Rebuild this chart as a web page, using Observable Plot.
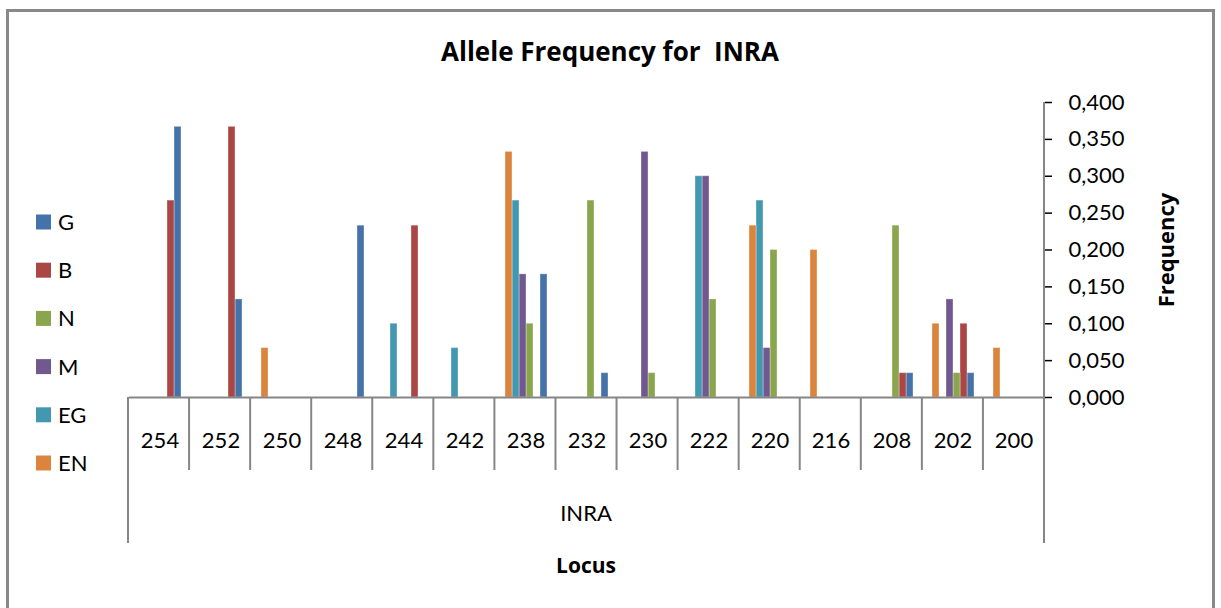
<!DOCTYPE html>
<html>
<head>
<meta charset="utf-8">
<script src="https://cdn.jsdelivr.net/npm/d3@7"></script>
<script src="https://cdn.jsdelivr.net/npm/@observablehq/plot@0.6"></script>
<style>
  html, body { margin: 0; padding: 0; background: #fff; overflow: hidden; }
  #chart { position: relative; width: 1221px; height: 608px; }
  #chart svg { display: block; }
  /* grey tick marks on the frequency axis (both axis renderers) */
  #chart [aria-label="y-axis tick"], #chart g[aria-label="y-axis"] .tick line { stroke: #868686; stroke-width: 1.5; }
  #chart [aria-label="y-axis"] path.domain { display: none; }
</style>
</head>
<body>
<div id="chart"></div>
<script>
// Chart text
const title = "Allele Frequency for  INRA";
const groupLabel = "INRA";
const xTitle = "Locus";
const yTitle = "Frequency";

// Alleles (categories), left to right
const alleles = ["254", "252", "250", "248", "244", "242", "238", "232", "230", "222", "220", "216", "208", "202", "200"];

// Populations (series) and their colours
const series = ["G", "B", "N", "M", "EG", "EN"];
const colors = ["#4672aa", "#aa4643", "#89a54e", "#71588f", "#4198af", "#db843d"];

// Allele frequency of each population, one value per allele above
const G  = [0.367, 0.133, 0,     0.233, 0,     0,     0.167, 0.033, 0,     0,     0,     0,   0.033, 0.033, 0];
const B  = [0.267, 0.367, 0,     0,     0.233, 0,     0,     0,     0,     0,     0,     0,   0.033, 0.100, 0];
const N  = [0,     0,     0,     0,     0,     0,     0.100, 0.267, 0.033, 0.133, 0.200, 0,   0.233, 0.033, 0];
const M  = [0,     0,     0,     0,     0,     0,     0.167, 0,     0.333, 0.300, 0.067, 0,   0,     0.133, 0];
const EG = [0,     0,     0,     0,     0.100, 0.067, 0.267, 0,     0,     0.300, 0.267, 0,   0,     0,     0];
const EN = [0,     0,     0.067, 0,     0,     0,     0.333, 0,     0,     0,     0.233, 0.2, 0,     0.100, 0.067];

// Frequency axis ticks
const yTicks = [0, 0.05, 0.1, 0.15, 0.2, 0.25, 0.3, 0.35, 0.4];

const seriesValues = [G, B, N, M, EG, EN];
const rows = [];
series.forEach((s, i) => {
  seriesValues[i].forEach((v, j) => rows.push({allele: alleles[j], population: s, value: v}));
});

// decimal comma, three decimals
const fmt = d3.formatLocale({decimal: ",", thousands: ".", grouping: [3], currency: ["", ""]}).format(".3f");

const FONT = "Lato, 'Open Sans', sans-serif";
const BOLD_FONT = "'Open Sans', Lato, sans-serif";
const GREY = "#868686";

const plot = Plot.plot({
  width: 1221,
  height: 608,
  marginLeft: 128,
  marginRight: 177,
  marginTop: 102,
  marginBottom: 211,
  style: {fontFamily: FONT, fontSize: "22px", color: "#000", background: "transparent"},
  fx: {domain: alleles, padding: 0, axis: "bottom", tickSize: 0, tickPadding: 35, label: null},
  x: {domain: series.slice().reverse(), paddingInner: 0, paddingOuter: 1, axis: null},
  y: {domain: [0, 0.4], axis: "right", ticks: yTicks, tickFormat: fmt, tickSize: 7, tickPadding: 17, label: null},
  color: {domain: series, range: colors},
  marks: [
    Plot.barY(rows.filter(d => d.value > 0), {
      fx: "allele", x: "population", y: "value", fill: "population",
      stroke: "#fff", strokeOpacity: 0.35, strokeWidth: 1
    }),
    Plot.ruleY([0], {stroke: GREY, strokeWidth: 2})
  ]
});

document.getElementById("chart").appendChild(plot);

// Category table lines, axis line, titles and legend
const svg = d3.select(plot);
const fxs = plot.scale("fx");
const ys = plot.scale("y");
const [fx0, fx1] = fxs.range;
const step = (fx1 - fx0) / alleles.length;
const yZero = ys.range[0];
const yTop = ys.range[1];

const deco = svg.insert("g", ":first-child");
deco.append("rect")
  .attr("x", 7.5).attr("y", 10.5).attr("width", 1206).attr("height", 640)
  .attr("fill", "none").attr("stroke", "#898989").attr("stroke-width", 3);

const lines = svg.append("g").attr("stroke", GREY).attr("stroke-width", 2);
for (let i = 1; i < alleles.length; ++i) {
  const x = fx0 + i * step;
  lines.append("line").attr("x1", x).attr("x2", x).attr("y1", yZero).attr("y2", yZero + 73);
}
lines.append("line").attr("x1", fx0).attr("x2", fx0).attr("y1", yZero).attr("y2", yZero + 146);
lines.append("line").attr("x1", fx1).attr("x2", fx1).attr("y1", yTop).attr("y2", yZero + 146);

const texts = svg.append("g").attr("fill", "#000").attr("text-anchor", "middle");
texts.append("text").attr("x", 610).attr("y", 61).attr("font-family", BOLD_FONT)
  .attr("font-size", 26).attr("font-weight", "bold").style("white-space", "pre").text(title);
texts.append("text").attr("x", (fx0 + fx1) / 2).attr("y", 521).attr("font-family", FONT)
  .attr("font-size", 22).text(groupLabel);
texts.append("text").attr("x", (fx0 + fx1) / 2).attr("y", 573).attr("font-family", BOLD_FONT)
  .attr("font-size", 21).attr("font-weight", "bold").text(xTitle);
texts.append("text").attr("transform", "translate(1174,250) rotate(-90)").attr("font-family", BOLD_FONT)
  .attr("font-size", 22).attr("font-weight", "bold").text(yTitle);

// Legend
const legend = svg.append("g").attr("font-family", FONT).attr("font-size", 22).attr("text-anchor", "start");
series.forEach((s, i) => {
  const cy = 222 + i * 48.2;
  legend.append("rect").attr("x", 36).attr("y", cy - 7.5).attr("width", 15).attr("height", 15).attr("fill", colors[i]);
  legend.append("text").attr("x", 58).attr("y", cy).attr("dy", "0.36em").text(s);
});
</script>
</body>
</html>
